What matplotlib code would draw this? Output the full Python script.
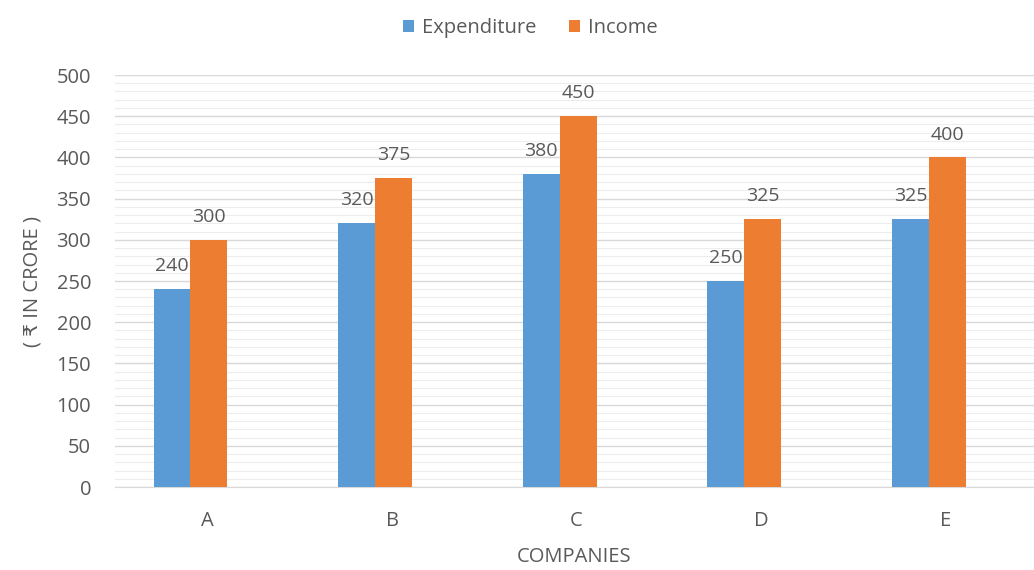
import matplotlib
matplotlib.use("Agg")
import matplotlib.pyplot as plt
import matplotlib.transforms as mtransforms
from matplotlib.ticker import MultipleLocator
import numpy as np

companies = ["A", "B", "C", "D", "E"]
expenditure = [240, 320, 380, 250, 325]
income = [300, 375, 450, 325, 400]

plt.rcParams['font.family'] = ['Open Sans', 'DejaVu Sans']
text_color = "#595959"
fs = 14.5

fig = plt.figure(figsize=(10.34, 5.70), dpi=100)
ax = fig.add_axes([0.111, 0.1456, 0.889, 0.7228])

x = np.arange(len(companies))
w = 0.2
b1 = ax.bar(x - w/2, expenditure, w, color="#5B9BD5", label="Expenditure", zorder=3)
b2 = ax.bar(x + w/2, income, w, color="#ED7D31", label="Income", zorder=3)

for rects, vals in ((b1, expenditure), (b2, income)):
    for rect, v in zip(rects, vals):
        ax.annotate(str(v), (rect.get_x() + rect.get_width()/2, v), xytext=(0, 10),
                    textcoords="offset points", ha="center", va="bottom",
                    fontsize=14, color=text_color, zorder=4)

ax.set_ylim(0, 500)
ax.set_xlim(-0.41, 4.57)
ax.yaxis.set_major_locator(MultipleLocator(50))
ax.yaxis.set_minor_locator(MultipleLocator(10))
ax.grid(which="major", axis="y", color="#D9D9D9", linewidth=1.0, zorder=0)
ax.grid(which="minor", axis="y", color="#EDEDED", linewidth=0.8, zorder=0)
for s in ["top", "right", "left"]:
    ax.spines[s].set_visible(False)
ax.spines["bottom"].set_color("#D9D9D9")
ax.tick_params(axis="both", which="both", length=0, colors=text_color, labelsize=fs)
ax.tick_params(axis="y", pad=17)
ax.tick_params(axis="x", pad=17)

ax.set_xticks(x)
ax.set_xticklabels(companies)
offset = mtransforms.ScaledTranslation(17/100, 0, fig.dpi_scale_trans)
for lab in ax.get_xticklabels():
    lab.set_transform(lab.get_transform() + offset)

ax.set_xlabel("COMPANIES", fontsize=fs, color=text_color, labelpad=12)
ax.set_ylabel("( ₹ IN CRORE )", fontsize=fs, color=text_color, labelpad=10)

leg = fig.legend(handles=[b1, b2], labels=["Expenditure", "Income"], loc="upper center",
                 bbox_to_anchor=(0.513, 1.0), ncol=2, frameon=False, fontsize=fs,
                 handlelength=0.55, handleheight=0.55, handletextpad=0.4, columnspacing=1.6)
for t in leg.get_texts():
    t.set_color(text_color)

fig.savefig("out.png", dpi=100, facecolor="white")
